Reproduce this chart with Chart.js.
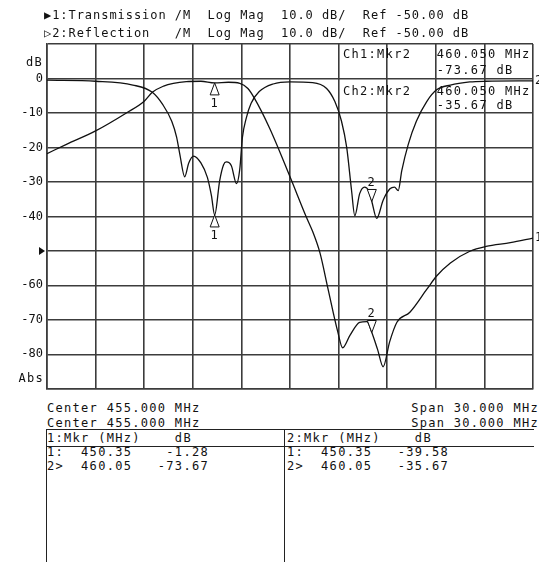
<!DOCTYPE html>
<html>
<head>
<meta charset="utf-8">
<script src="https://cdn.jsdelivr.net/npm/chart.js@4.4.0/dist/chart.umd.min.js"></script>
<style>
  body { margin:0; background:#fff; }
  #wrap { position:relative; width:539px; height:562px; overflow:hidden; background:#fff; }
  #c { position:absolute; left:0; top:0; }
  .t { position:absolute; margin:0; font:12px "DejaVu Sans Mono", monospace; letter-spacing:1.3px; white-space:pre; color:#111; line-height:14px; }
  .t.hd { letter-spacing:0.95px; }
  .h { position:absolute; height:0; border-top:1px solid #222; }
  .v { position:absolute; width:0; border-left:1px solid #222; }
</style>
</head>
<body>
<div id="wrap">
  <canvas id="c" width="539" height="400"></canvas>
  <div class="t hd" id="hd1" style="left:44px;top:8px"></div>
  <div class="t hd" id="hd2" style="left:44px;top:26px"></div>
  <div class="t" id="ctr1" style="left:47px;top:401px"></div>
  <div class="t" id="ctr2" style="left:47px;top:416px"></div>
  <div class="t" id="spn1" style="right:0px;top:401px"></div>
  <div class="t" id="spn2" style="right:0px;top:416px"></div>
  <div class="h" style="left:46px;width:488px;top:429px"></div>
  <div class="h" style="left:46px;width:488px;top:446px"></div>
  <div class="v" style="left:46px;top:429px;height:140px"></div>
  <div class="v" style="left:284px;top:429px;height:140px"></div>
  <div class="t" id="tb1" style="left:47px;top:431px"></div>
  <div class="t" id="tb2" style="left:287px;top:431px"></div>
</div>
<script>
(function(){
    'use strict';

    // channel 1 : transmission (MHz / dB)
    var transFreq = [440, 441.2, 443.0, 444.9, 446.0, 446.5, 447.2, 447.8, 448.6, 449.5, 450.35, 451.2, 451.9, 452.4, 452.8,
        453.75, 455.0, 456.0, 456.4, 456.85, 457.35, 457.95, 458.25, 458.7, 459.3, 459.75, 460.05, 460.4, 460.75,
        461.15, 461.6, 462.4, 463.45, 464.05, 464.9, 466.1, 467.1, 468.6, 470];
    var trans = [-21.8, -19.1, -15.2, -10.0, -6.6, -4.0, -2.2, -1.4, -0.9, -0.8, -1.28, -1.1, -1.4, -2.9, -5.7,
        -14.5, -28.5, -40.1, -44.4, -50.6, -61.1, -73.5, -78.1, -74.5, -70.7, -70.5, -73.67, -78.5, -83.6,
        -76.4, -70.7, -67.8, -61.1, -57.3, -53.5, -50.1, -48.7, -47.6, -46.3];

    // channel 2 : reflection
    var reflFreq = [440, 443, 445.3, 446.5, 447.15, 447.7, 448.0, 448.2, 448.5, 448.75, 449.05, 449.5, 449.9, 450.15, 450.35,
        450.66, 450.9, 451.07, 451.38, 451.7, 451.9, 452.06, 452.3, 452.6, 453.1, 453.96, 455, 456.4, 457.26, 457.77,
        458.18, 458.5, 458.8, 459.0, 459.3, 459.6, 459.85, 460.05, 460.35, 460.75, 461.17, 461.45, 461.68, 461.9,
        462.3, 462.8, 463.44, 464.05, 464.9, 466.1, 467.1, 470];
    var refl = [-0.5, -0.8, -1.9, -4.0, -7.6, -12.4, -17.0, -22.0, -28.5, -24.5, -22.5, -24.5, -28.7, -34.0, -39.58,
        -29.6, -25.0, -24.2, -25.3, -30.5, -26.3, -17.2, -11.5, -7.2, -3.8, -1.6, -1.0, -1.2, -2.9, -6.7,
        -12.4, -20.0, -32.5, -39.8, -33.4, -31.5, -32.5, -35.67, -40.6, -35.3, -32.0, -31.5, -32.5, -26.7,
        -19.1, -12.4, -6.7, -3.3, -1.9, -1.0, -0.8, -0.7];

    // markers
    var mkrFreq = [450.35, 460.05];
    var ch1Mkr = [-1.28, -73.67];
    var ch2Mkr = [-39.58, -35.67];

    var yTicks = [10, 0, -10, -20, -30, -40, -50, -60, -70, -80, -90];
    var refLevel = -50;

    var FONT = '12px "DejaVu Sans Mono", monospace';
    var GRID = '#3c3c3c';

    function pts(xs, ys){
        return xs.map(function(x, i){ return {x:x, y:ys[i]}; });
    }
    function fmt(v, d, w){
        var s = v.toFixed(d);
        while (s.length < w) { s = ' ' + s; }
        return s;
    }

    document.getElementById('hd1').textContent = '\u25B61:Transmission /M  Log Mag  10.0 dB/  Ref -50.00 dB';
    document.getElementById('hd2').textContent = '\u25B72:Reflection   /M  Log Mag  10.0 dB/  Ref -50.00 dB';
    document.getElementById('ctr1').textContent = 'Center 455.000 MHz';
    document.getElementById('ctr2').textContent = 'Center 455.000 MHz';
    document.getElementById('spn1').textContent = 'Span 30.000 MHz';
    document.getElementById('spn2').textContent = 'Span 30.000 MHz';

    function table(ch, vals){
        return ch + ':Mkr (MHz)    dB\n' +
            '1:  ' + mkrFreq[0].toFixed(2) + fmt(vals[0], 2, 9) + '\n' +
            '2>  ' + mkrFreq[1].toFixed(2) + fmt(vals[1], 2, 9);
    }
    document.getElementById('tb1').textContent = table(1, ch1Mkr);
    document.getElementById('tb2').textContent = table(2, ch2Mkr);

    var overlay = {
        id:'overlay',
        afterDatasetsDraw:function(chart){
            var ctx = chart.ctx, xs = chart.scales.x, ys = chart.scales.y, a = chart.chartArea;
            ctx.save();
            ctx.font = FONT;
            ctx.letterSpacing = '1.3px';
            ctx.fillStyle = '#111';
            ctx.strokeStyle = '#111';
            ctx.lineWidth = 1;
            ctx.textBaseline = 'middle';

            // unit labels
            ctx.textAlign = 'right';
            ctx.fillText('dB', 43, ys.getPixelForValue(4.5));
            ctx.fillText('Abs', 44, ys.getPixelForValue(-87));

            // reference level arrow
            var ry = ys.getPixelForValue(refLevel);
            ctx.beginPath();
            ctx.moveTo(39, ry - 4); ctx.lineTo(45, ry); ctx.lineTo(39, ry + 4); ctx.closePath();
            ctx.fill();

            // marker readouts
            ctx.textAlign = 'left';
            var mx = a.left + 296;
            ctx.fillText('Ch1:Mkr2   ' + mkrFreq[1].toFixed(3) + ' MHz', mx, 55);
            ctx.fillText('           ' + ch1Mkr[1].toFixed(2) + ' dB', mx, 71);
            ctx.fillText('Ch2:Mkr2   ' + mkrFreq[1].toFixed(3) + ' MHz', mx, 92);
            ctx.fillText('           ' + ch2Mkr[1].toFixed(2) + ' dB', mx, 106);

            // trace end labels
            ctx.fillText('2', a.right + 2, ys.getPixelForValue(refl[refl.length - 1]));
            ctx.fillText('1', a.right + 2, ys.getPixelForValue(trans[trans.length - 1]));

            // markers: 1 = up triangle below point, 2 = down triangle above point
            ctx.textAlign = 'center';
            [ch1Mkr, ch2Mkr].forEach(function(vals){
                var p1x = xs.getPixelForValue(mkrFreq[0]), p1y = ys.getPixelForValue(vals[0]);
                ctx.beginPath();
                ctx.moveTo(p1x, p1y); ctx.lineTo(p1x + 4.5, p1y + 12); ctx.lineTo(p1x - 4.5, p1y + 12); ctx.closePath();
                ctx.fillStyle = '#fff'; ctx.fill(); ctx.stroke();
                ctx.fillStyle = '#111';
                ctx.fillText('1', p1x, p1y + 21);

                var p2x = xs.getPixelForValue(mkrFreq[1]), p2y = ys.getPixelForValue(vals[1]);
                ctx.beginPath();
                ctx.moveTo(p2x, p2y); ctx.lineTo(p2x + 4.5, p2y - 12); ctx.lineTo(p2x - 4.5, p2y - 12); ctx.closePath();
                ctx.fillStyle = '#fff'; ctx.fill(); ctx.stroke();
                ctx.fillStyle = '#111';
                ctx.fillText('2', p2x, p2y - 19);
            });
            ctx.restore();
        }
    };

    new Chart(document.getElementById('c'), {
        type:'line',
        data:{
            datasets:[{
                label:'Transmission',
                data:pts(transFreq, trans),
                borderColor:'#111', borderWidth:1.3, pointRadius:0, cubicInterpolationMode:'monotone'
            },{
                label:'Reflection',
                data:pts(reflFreq, refl),
                borderColor:'#111', borderWidth:1.3, pointRadius:0, cubicInterpolationMode:'monotone'
            }]
        },
        options:{
            responsive:false,
            animation:false,
            events:[],
            layout:{ padding:{ top:44, right:6, bottom:6, left:0 } },
            plugins:{ legend:{ display:false }, tooltip:{ enabled:false } },
            scales:{
                x:{
                    type:'linear', min:440, max:470,
                    ticks:{ display:false, stepSize:3 },
                    grid:{ color:GRID, lineWidth:1.6, drawTicks:false },
                    border:{ color:GRID, width:1.6 },
                    afterFit:function(s){ s.height = 0; }
                },
                y:{
                    min:-90, max:10,
                    afterBuildTicks:function(s){ s.ticks = yTicks.map(function(v){ return {value:v}; }); },
                    ticks:{
                        color:'#111', padding:4, font:{ family:'"DejaVu Sans Mono", monospace', size:12 },
                        callback:function(v){ return (v === 10 || v === -90 || v === refLevel) ? '' : String(v); }
                    },
                    grid:{ color:GRID, lineWidth:1.6, drawTicks:false },
                    border:{ color:GRID, width:1.6 },
                    afterFit:function(s){ s.width = 47; }
                }
            }
        },
        plugins:[overlay]
    });
}());
</script>
</body>
</html>
